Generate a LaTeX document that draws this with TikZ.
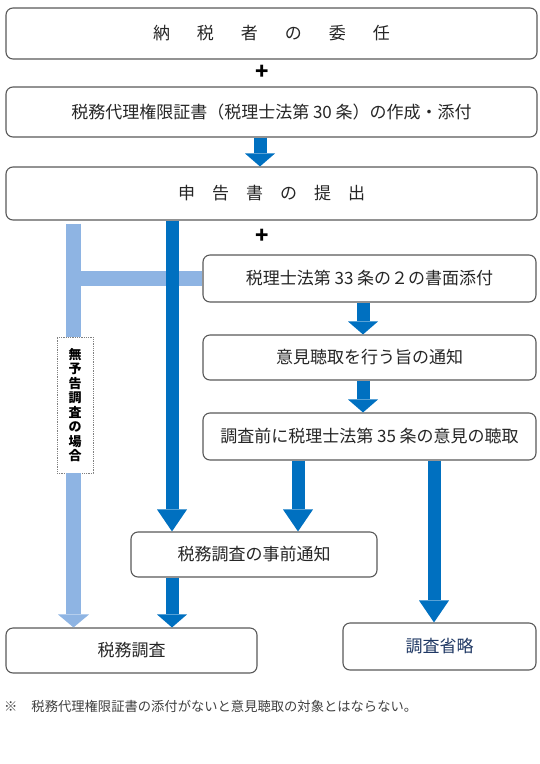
\documentclass[tikz,border=0pt]{standalone}
\usepackage{fontspec}
\setmainfont{Noto Sans CJK JP}
\usetikzlibrary{arrows.meta}

\definecolor{arrowblue}{RGB}{0,112,192}
\definecolor{paleblue}{RGB}{142,180,227}
\definecolor{navytext}{RGB}{31,56,100}

\tikzset{
  box/.style={shape=rectangle,rounded corners=7pt,draw=black!65,line width=1.1pt,fill=white,inner sep=0pt,text=black!85,font=\fontsize{17}{19}\selectfont},
  darr/.style={draw=arrowblue,line width=13pt,-{Triangle[length=13pt,width=30pt,line width=0pt]}},
  longarr/.style={darr,-{Triangle[length=22pt,width=30pt,line width=0pt]}},
  lbar/.style={draw=paleblue,line width=15pt},
  larr/.style={lbar,-{Triangle[length=13pt,width=31pt,line width=0pt]}}
}

\begin{document}
\begin{tikzpicture}[x=1pt,y=-1pt]
\useasboundingbox (0,0) rectangle (540,764);
% columns of the arrows
\coordinate (colL) at (73.5,0);
\coordinate (colM) at (172,0);
\coordinate (colC) at (260,0);
\coordinate (colN) at (298,0);
\coordinate (colR) at (363,0);
\coordinate (colS) at (434,0);

\path (271.5,33.5) node (appoint) [box,minimum width=531pt,minimum height=51pt] {納\hspace{27pt}税\hspace{27pt}者\hspace{27pt}の\hspace{27pt}委\hspace{27pt}任};
\path (262,72) node (plusA) [font=\fontsize{22}{22}\selectfont\bfseries] {+};
\path (271.5,112) node (proxy) [box,minimum width=531pt,minimum height=50pt] {税務代理権限証書（税理士法第 30 条）の作成・添付};
\path (271.5,193.5) node (filing) [box,minimum width=531pt,minimum height=53pt] {申\hspace{17pt}告\hspace{17pt}書\hspace{17pt}の\hspace{17pt}提\hspace{17pt}出};
\path (262,236) node (plusB) [font=\fontsize{22}{22}\selectfont\bfseries] {+};

\path (369.5,278.5) node (attach) [box,minimum width=333pt,minimum height=47pt] {税理士法第 33 条の２の書面添付};
\path (369.5,357.5) node (hearnote) [box,minimum width=333pt,minimum height=45pt] {意見聴取を行う旨の通知};
\path (369.5,436.5) node (hearing) [box,minimum width=333pt,minimum height=47pt] {調査前に税理士法第 35 条の意見の聴取};
\path (254,554.5) node (notice) [box,minimum width=246pt,minimum height=45pt] {税務調査の事前通知};
\path (131.5,650.5) node (audit) [box,minimum width=251pt,minimum height=45pt] {税務調査};
\path (439.5,646.5) node (skip) [box,minimum width=193pt,minimum height=47pt,text=navytext] {調査省略};

%\path node for the case without notice
\path (75,405) node (nonotice) [shape=rectangle,draw=black!50,densely dotted,line width=0.8pt,fill=white,minimum width=36pt,minimum height=136pt,inner sep=0pt,align=center,font=\fontsize{13}{14.5}\selectfont\bfseries] {無\\予\\告\\調\\査\\の\\場\\合};

\path (4,706) node (note) [anchor=west,inner sep=0pt,text=black!75,font=\fontsize{13.3}{15}\selectfont] {※\hspace{14pt}税務代理権限証書の添付がないと意見聴取の対象とはならない。};

% pale branch
\draw [lbar,shorten <=3pt] (colL |- filing.south) to (colL |- nonotice.north);
\draw [lbar] (colL |- attach.west) to (attach.west);
\draw [larr] (colL |- nonotice.south) to (colL |- audit.north);

% dark arrows
\draw [darr] (colC |- proxy.south) to (colC |- filing.north);
\draw [longarr] (colM |- filing.south) to (colM |- notice.north);
\draw [darr] (colR |- attach.south) to (colR |- hearnote.north);
\draw [darr] (colR |- hearnote.south) to (colR |- hearing.north);
\draw [longarr] (colN |- hearing.south) to (colN |- notice.north);
\draw [longarr] (colS |- hearing.south) to (colS |- skip.north);
\draw [darr] (colM |- notice.south) to (colM |- audit.north);
\end{tikzpicture}
\end{document}
